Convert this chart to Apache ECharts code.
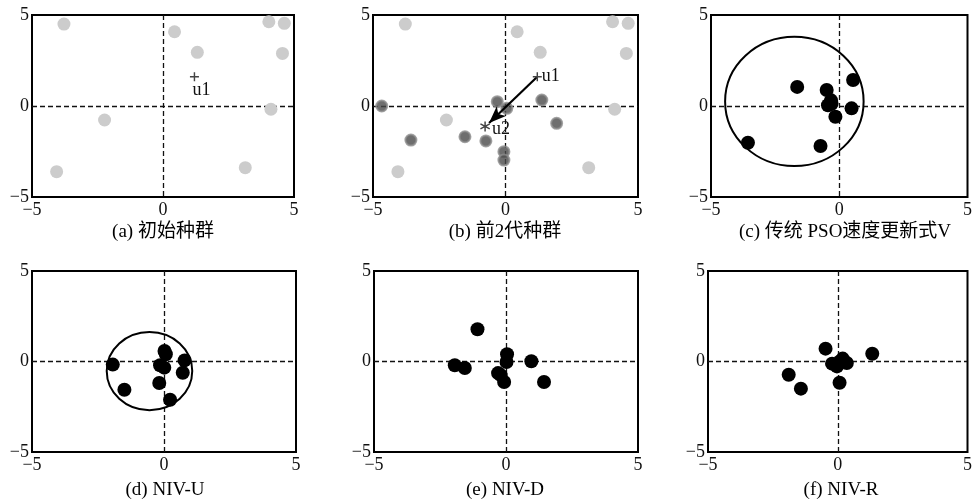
<!DOCTYPE html>
<html>
<head>
<meta charset="utf-8">
<script src="https://cdn.jsdelivr.net/npm/echarts@6/dist/echarts.min.js"></script>
<style>
html,body{margin:0;padding:0;background:#fff;}
#main{width:975px;height:501px;}
</style>
</head>
<body>
<div id="main"></div>
<script>
// ---------- data ----------
const tickValues = [-5, 0, 5];
const tickLabels = ['\u22125', '0', '5'];
const captions = ['(a) 初始种群', '(b) 前2代种群', '(c) 传统 PSO速度更新式V', '(d) NIV-U', '(e) NIV-D', '(f) NIV-R'];

// initial population (light gray), shown in (a) and (b)
const initPop = [
  [-3.78, 4.5], [0.44, 4.08], [4.04, 4.63], [4.63, 4.54], [1.31, 2.95],
  [4.56, 2.89], [4.12, -0.18], [-2.23, -0.77], [-4.06, -3.61], [3.14, -3.39]
];
const u1 = [1.2, 1.61];
// second generation (dark gray) in (b)
const gen2 = [
  [-4.67, 0.0], [-3.57, -1.87], [-1.53, -1.69], [-0.74, -1.92], [-0.31, 0.24],
  [0.05, -0.13], [1.37, 0.33], [1.93, -0.95], [-0.06, -2.51], [-0.06, -2.97]
];
const u2 = [-0.77, -1.12];
const arrowEnd = [-0.62, -0.93];
// (c) traditional PSO
const popC = [
  [-1.64, 1.05], [-0.49, 0.88], [0.54, 1.43], [-0.32, 0.31], [-0.44, 0.04],
  [-0.3, 0.12], [0.48, -0.13], [-0.15, -0.59], [-3.56, -2.02], [-0.73, -2.2]
];
const ellipseC = [-1.75, 0.25, 2.7, 3.55];
// (d) NIV-U
const popD = [
  [-1.94, -0.17], [-1.5, -1.56], [0.02, 0.58], [0.07, 0.4], [-0.15, -0.21],
  [0.01, -0.34], [0.78, 0.06], [0.71, -0.62], [-0.18, -1.19], [0.23, -2.11]
];
const ellipseD = [-0.55, -0.53, 1.62, 2.16];
// (e) NIV-D
const popE = [
  [-1.08, 1.78], [-1.94, -0.21], [-1.56, -0.36], [0.04, 0.4], [0.02, -0.03],
  [0.96, 0.01], [-0.3, -0.64], [-0.2, -0.75], [-0.07, -1.13], [1.44, -1.13]
];
// (f) NIV-R
const popF = [
  [-0.47, 0.71], [1.33, 0.43], [-1.89, -0.73], [-1.42, -1.5], [0.07, -1.17],
  [-0.22, -0.12], [-0.03, -0.27], [0.19, 0.16], [0.35, -0.08], [0.08, 0.0]
];

// ---------- layout ----------
const gridPos = [
  {left: 32, top: 15, width: 262, height: 182},
  {left: 373, top: 15, width: 265, height: 182},
  {left: 711, top: 15, width: 263, height: 182},
  {left: 32, top: 271, width: 264, height: 181},
  {left: 374, top: 271, width: 264, height: 181},
  {left: 708, top: 271, width: 265, height: 181}
];
const captionPos = [[163, 232], [505, 232], [845, 232], [165, 490], [505, 490], [841, 490]];

const serif = '"Liberation Serif", "Times New Roman", serif';
const capFont = '"Liberation Serif", "Noto Sans CJK SC", serif';

const fmt = v => { const i = tickValues.indexOf(v); return i >= 0 ? tickLabels[i] : ''; };

const grids = gridPos.map(g => Object.assign({show: true, borderColor: '#000', borderWidth: 2, backgroundColor: '#fff', containLabel: false}, g));
const splitStyle = {show: true, showMinLine: false, showMaxLine: false, lineStyle: {color: '#111', width: 1.3, type: [5, 3]}};
const xAxes = gridPos.map((g, i) => ({
  gridIndex: i, type: 'value', min: -5, max: 5, interval: 5,
  axisLine: {show: false}, axisTick: {show: false},
  axisLabel: {formatter: fmt, fontFamily: serif, fontSize: 18, color: '#111', margin: 4, showMinLabel: true, showMaxLabel: true},
  splitLine: splitStyle
}));
const yAxes = gridPos.map((g, i) => ({
  gridIndex: i, type: 'value', min: -5, max: 5, interval: 5,
  axisLine: {show: false}, axisTick: {show: false},
  axisLabel: {formatter: fmt, fontFamily: serif, fontSize: 18, color: '#111', margin: 3, showMinLabel: true, showMaxLabel: true, padding: [6, 0, 0, 0]},
  splitLine: splitStyle
}));

const plusPath = 'path://M4.2,0h1.6v4.2h4.2v1.6h-4.2v4.2h-1.6v-4.2h-4.2v-1.6h4.2z';
const starPath = 'path://M4.3,0L5.7,0L5.7,10L4.3,10ZM0.95,1.9L9.7,6.95L9.05,8.1L0.3,3.05ZM9.7,3.05L0.95,8.1L0.3,6.95L9.05,1.9Z';

function scatter(i, data, color, size, extra) {
  return Object.assign({
    type: 'scatter', xAxisIndex: i, yAxisIndex: i, data: data,
    symbolSize: size, itemStyle: {color: color, opacity: 1}, silent: true, z: 3
  }, extra || {});
}
function ellipse(i, e) {
  return {
    type: 'custom', xAxisIndex: i, yAxisIndex: i, data: [e], silent: true, z: 4, clip: false,
    encode: {x: 0, y: 1},
    renderItem: (params, api) => {
      const c = api.coord([api.value(0), api.value(1)]);
      const s = api.size([api.value(2), api.value(3)]);
      return {type: 'ellipse', shape: {cx: c[0], cy: c[1], rx: s[0], ry: s[1]},
              style: {fill: 'none', stroke: '#000', lineWidth: 2}};
    }
  };
}
const labelStyle = {fontFamily: serif, fontSize: 18, color: '#111'};

const series = [
  scatter(0, initPop, '#cccccc', 13),
  scatter(0, [u1], '#444', 9, {symbol: plusPath, label: Object.assign({show: true, formatter: 'u1', position: 'bottom', distance: 0, offset: [7, 0]}, labelStyle)}),
  scatter(1, initPop, '#cccccc', 13),
  scatter(1, gen2, '#4a4a4a', 11, {itemStyle: {color: '#4a4a4a', borderColor: '#8c8c8c', borderWidth: 2}}),
  scatter(1, [u1], '#444', 9, {symbol: plusPath, z: 6, label: Object.assign({show: true, formatter: 'u1', position: 'right', distance: 0}, labelStyle),
    markLine: {silent: true, symbol: ['none', 'arrow'], symbolSize: [10, 17], label: {show: false},
      lineStyle: {color: '#000', width: 2.2, type: 'solid'},
      data: [[{coord: u1}, {coord: arrowEnd}]]}}),
  scatter(1, [u2], '#444', 10, {symbol: starPath, z: 6, label: Object.assign({show: true, formatter: 'u2', position: 'right', distance: 2, offset: [0, 3]}, labelStyle)}),
  scatter(2, popC, '#000', 14),
  ellipse(2, ellipseC),
  scatter(3, popD, '#000', 14),
  ellipse(3, ellipseD),
  scatter(4, popE, '#000', 14),
  scatter(5, popF, '#000', 14)
];

const graphic = captions.map((t, i) => ({
  type: 'text', x: captionPos[i][0], y: captionPos[i][1], silent: true,
  style: {text: t, font: '19px ' + capFont, fill: '#000', textAlign: 'center', textVerticalAlign: 'middle'}
}));

const chart = echarts.init(document.getElementById('main'), null, {renderer: 'canvas'});
chart.setOption({
  animation: false,
  backgroundColor: '#fff',
  grid: grids, xAxis: xAxes, yAxis: yAxes, series: series, graphic: graphic
});
</script>
</body>
</html>
